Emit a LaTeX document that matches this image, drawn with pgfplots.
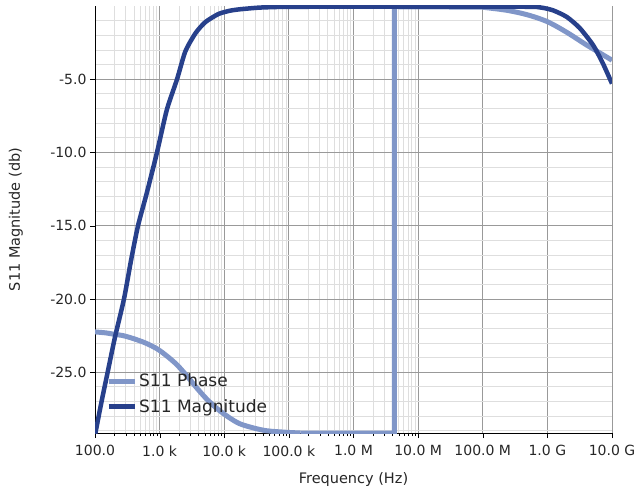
\documentclass[border=0pt]{standalone}
\usepackage{pgfplots}
\pgfplotsset{compat=1.18}
\usepackage{fontspec}
\setmainfont{DejaVu Sans}
\definecolor{phasec}{HTML}{8096C8}
\definecolor{magc}{HTML}{27408B}
\begin{document}
\begin{tikzpicture}
\useasboundingbox (-95pt,-60pt) rectangle (543pt,433pt);
\begin{axis}[
  at={(0,0)}, anchor=south west,
  scale only axis, width=517pt, height=427pt,
  xmode=log, log basis x=10,
  xmin=100, xmax=1e10, ymin=-29.15, ymax=0,
  axis x line*=bottom, axis y line*=left,
  x axis line style={-, line width=1pt}, y axis line style={-, line width=1pt},
  tick align=outside,
  major tick length=5pt, minor tick length=3pt,
  xtick={1e2,1e3,1e4,1e5,1e6,1e7,1e8,1e9,1e10},
  xticklabels={100.0,1.0 k,10.0 k,100.0 k,1.0 M,10.0 M,100.0 M,1.0 G,10.0 G},
  minor xtick={200,300,400,500,600,700,800,900,
    2e3,3e3,4e3,5e3,6e3,7e3,8e3,9e3,
    2e4,3e4,4e4,5e4,6e4,7e4,8e4,9e4,
    2e5,3e5,4e5,5e5,6e5,7e5,8e5,9e5,
    2e6,3e6,4e6,5e6,6e6,7e6,8e6,9e6},
  ytick={-25,-20,-15,-10,-5},
  yticklabels={-25.0,-20.0,-15.0,-10.0,-5.0},
  minor ytick={-29,-28,...,-1},
  ytick style={draw=black}, xtick style={draw=black},
  minor y tick style={draw=none},
  grid=both,
  major grid style={draw=black!40, line width=0.8pt},
  minor grid style={draw=black!13, line width=0.8pt},
  ticklabel style={font=\fontsize{14}{16}\selectfont, text=black!85},
  xticklabel style={yshift=-4pt},
  xlabel={Frequency (Hz)}, ylabel={S11 Magnitude (db)},
  label style={font=\fontsize{14.5}{17}\selectfont, text=black!85},
  xlabel style={at={(axis description cs:0.5,0)}, anchor=center, yshift=-47pt},
  ylabel style={at={(axis description cs:-0.153,0.5)}, anchor=center},
  /pgf/number format/assume math mode=true,
  legend style={at={(axis description cs:0.0,0.0)}, anchor=south west, xshift=8pt, yshift=15pt,
    draw=none, fill=none, font=\fontsize{17}{20}\selectfont, text=black!85,
    row sep=7pt},
  legend cell align=left,
  legend image code/.code={\draw[#1] (0pt,0pt) -- (26pt,0pt);},
]
\addplot[color=phasec, line width=5pt, line join=round, smooth, tension=0.5] coordinates {
(100,-22.25) (150,-22.32) (190,-22.4) (270,-22.5) (390,-22.7) (600,-23.0) (910,-23.4)
(1300,-23.9) (1860,-24.5) (2700,-25.3) (3800,-26.1) (5400,-26.85)
(7800,-27.5) (11500,-28.05) (17000,-28.5) (28000,-28.8) (46000,-29.0) (90000,-29.1) (150000,-29.15)
};
\addlegendentry{S11 Phase}
\addplot[color=phasec, line width=5pt, forget plot] coordinates {
(150000,-29.15) (4.3e6,-29.15) (4.3e6,-0.05) (1.0e8,-0.08)
};
\addplot[color=phasec, line width=5pt, line join=round, smooth, tension=0.5, forget plot] coordinates {
(1.0e8,-0.08) (1.17e8,-0.12) (2.4e8,-0.3) (4.9e8,-0.6)
(1.0e9,-1.07) (2.0e9,-1.8) (4.07e9,-2.67) (1e10,-3.7)
};
\addplot[color=magc, line width=4.5pt, line join=round, smooth, tension=0.4] coordinates {
(100,-29.3) (125,-27.1) (157,-25) (204,-22.6) (281,-20) (360,-17.4) (463,-15) (630,-12.8) (910,-10)
(1290,-7.1) (1860,-5) (2500,-3.1) (3600,-1.85) (5100,-1.1) (8100,-0.55)
(12000,-0.33) (17000,-0.23) (35000,-0.11) (80000,-0.06) (3e5,-0.05) (1e6,-0.05) (3.8e8,-0.05)
(7.8e8,-0.1) (1.23e9,-0.3) (2.0e9,-0.75) (3.16e9,-1.5) (5.1e9,-2.67)
(7.2e9,-3.9) (1e10,-5.3)
};
\addlegendentry{S11 Magnitude}
\end{axis}
\end{tikzpicture}
\end{document}
